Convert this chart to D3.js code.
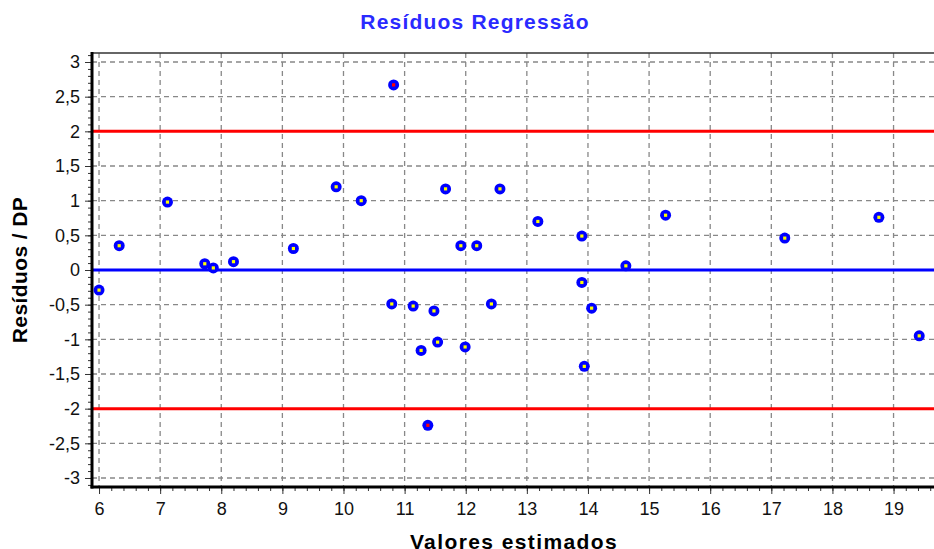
<!DOCTYPE html>
<html lang="pt">
<head>
    <meta charset="UTF-8">
    <title>Resíduos Regressão</title>
    <style>
        body { margin: 0; background: #fff; }
        svg { display: block; font-family: "Liberation Sans", Arial, sans-serif; }
    </style>
</head>
<body>
    <svg id="chart"></svg>

    <script src="https://d3js.org/d3.v7.min.js"></script>

    <script>
// Estimated values (x) and standardized residuals (y)
const estimados = [6.0, 6.33, 7.12, 7.73, 7.87, 8.2, 9.18, 9.88, 10.29, 10.82,
    10.79, 11.14, 11.48, 12.42, 11.27, 11.54, 11.99, 11.38, 11.67, 12.56,
    11.92, 12.18, 13.18, 13.9, 15.27, 14.62, 13.9, 14.06, 17.22, 18.76,
    19.42, 13.94];
const residuos = [-0.29, 0.35, 0.98, 0.09, 0.03, 0.12, 0.31, 1.2, 1.0, 2.67,
    -0.49, -0.52, -0.59, -0.49, -1.16, -1.04, -1.11, -2.24, 1.17, 1.17,
    0.35, 0.35, 0.70, 0.49, 0.79, 0.06, -0.18, -0.55, 0.46, 0.76,
    -0.95, -1.39];

const xTicks = [6, 7, 8, 9, 10, 11, 12, 13, 14, 15, 16, 17, 18, 19];
const yTicks = [-3, -2.5, -2, -1.5, -1, -0.5, 0, 0.5, 1, 1.5, 2, 2.5, 3];
const limites = [-2, 2];

const width = 934, height = 549;
const m = { left: 92, right: 940, top: 53, bottom: 487 };

const svg = d3.select("#chart").attr("width", width).attr("height", height);

const x = d3.scaleLinear().domain([5.885, 19.76]).range([m.left, m.right]);
const y = d3.scaleLinear().domain([-3.13, 3.13]).range([m.bottom, m.top]);

const fmt = d => String(d).replace(".", ",");

// grid
svg.append("g").selectAll("line")
    .data(xTicks).join("line")
    .attr("x1", d => x(d)).attr("x2", d => x(d))
    .attr("y1", m.top).attr("y2", m.bottom)
    .attr("stroke", "#888").attr("stroke-width", 1.3)
    .attr("stroke-dasharray", "5,4");

svg.append("g").selectAll("line")
    .data(yTicks).join("line")
    .attr("x1", m.left).attr("x2", width)
    .attr("y1", d => y(d)).attr("y2", d => y(d))
    .attr("stroke", "#888").attr("stroke-width", 1.3)
    .attr("stroke-dasharray", "5,4");

// reference lines
svg.append("g").selectAll("line")
    .data(limites).join("line")
    .attr("x1", m.left).attr("x2", width)
    .attr("y1", d => y(d)).attr("y2", d => y(d))
    .attr("stroke", "#ff0000").attr("stroke-width", 3);

svg.append("line")
    .attr("x1", m.left).attr("x2", width)
    .attr("y1", y(0)).attr("y2", y(0))
    .attr("stroke", "#0000ff").attr("stroke-width", 3);

// top frame
svg.append("line")
    .attr("x1", m.left).attr("x2", width)
    .attr("y1", m.top).attr("y2", m.top)
    .attr("stroke", "#333").attr("stroke-width", 1.5);

// axes
const yAxis = d3.axisLeft(y).tickValues(yTicks).tickFormat(fmt).tickSize(7).tickPadding(5);
const yMinor = d3.axisLeft(y).tickValues(d3.range(-3.1, 3.11, 0.1).map(v => +v.toFixed(1))).tickFormat("").tickSize(4);
const xAxis = d3.axisBottom(x).tickValues(xTicks).tickFormat(fmt).tickSize(7).tickPadding(8);
const xMinor = d3.axisBottom(x).tickValues(d3.range(5.8, 19.81, 0.2).map(v => +v.toFixed(1)).filter(v => v >= 5.885)).tickFormat("").tickSize(4);

function styleAxis(g) {
    g.select(".domain").remove();
    g.selectAll(".tick line").attr("stroke", "#333").attr("stroke-width", 1);
    g.selectAll(".tick text").attr("fill", "#111").style("font-size", "18px");
}

svg.append("g").attr("transform", `translate(${m.left},0)`).call(yMinor).call(styleAxis);
svg.append("g").attr("transform", `translate(${m.left},0)`).call(yAxis).call(styleAxis);
svg.append("g").attr("transform", `translate(0,${m.bottom})`).call(xMinor).call(styleAxis);
svg.append("g").attr("transform", `translate(0,${m.bottom})`).call(xAxis).call(styleAxis);

svg.append("line")
    .attr("x1", m.left).attr("x2", m.left).attr("y1", m.top - 1).attr("y2", m.bottom + 1.5)
    .attr("stroke", "#000").attr("stroke-width", 3);
svg.append("line")
    .attr("x1", m.left - 1.5).attr("x2", width).attr("y1", m.bottom).attr("y2", m.bottom)
    .attr("stroke", "#000").attr("stroke-width", 3);

// points
const pts = estimados.map((v, i) => ({ x: v, y: residuos[i] }));
const g = svg.append("g").selectAll("g")
    .data(pts).join("g")
    .attr("transform", d => `translate(${x(d.x)},${y(d.y)})`);
g.append("circle").attr("r", 5.5).attr("fill", "#0000ff");
g.append("rect").attr("x", -1.6).attr("y", -1.6).attr("width", 3.2).attr("height", 3.2)
    .attr("fill", d => Math.abs(d.y) > 2 ? "#ff0000" : "#ffff00");

// titles
svg.append("text")
    .attr("x", 475).attr("y", 29)
    .attr("text-anchor", "middle")
    .attr("fill", "#2a2aff")
    .style("font-size", "21px").style("font-weight", "bold")
    .style("letter-spacing", "1.2px")
    .text("Resíduos Regressão");

svg.append("text")
    .attr("transform", `translate(27,${(m.top + m.bottom) / 2}) rotate(-90)`)
    .attr("text-anchor", "middle")
    .attr("fill", "#000")
    .style("font-size", "21px").style("font-weight", "bold")
    .style("letter-spacing", "0.4px")
    .text("Resíduos / DP");

svg.append("text")
    .attr("x", 514).attr("y", 549)
    .attr("text-anchor", "middle")
    .attr("fill", "#000")
    .style("font-size", "21px").style("font-weight", "bold")
    .style("letter-spacing", "1.4px")
    .text("Valores estimados");
    </script>
</body>
</html>
